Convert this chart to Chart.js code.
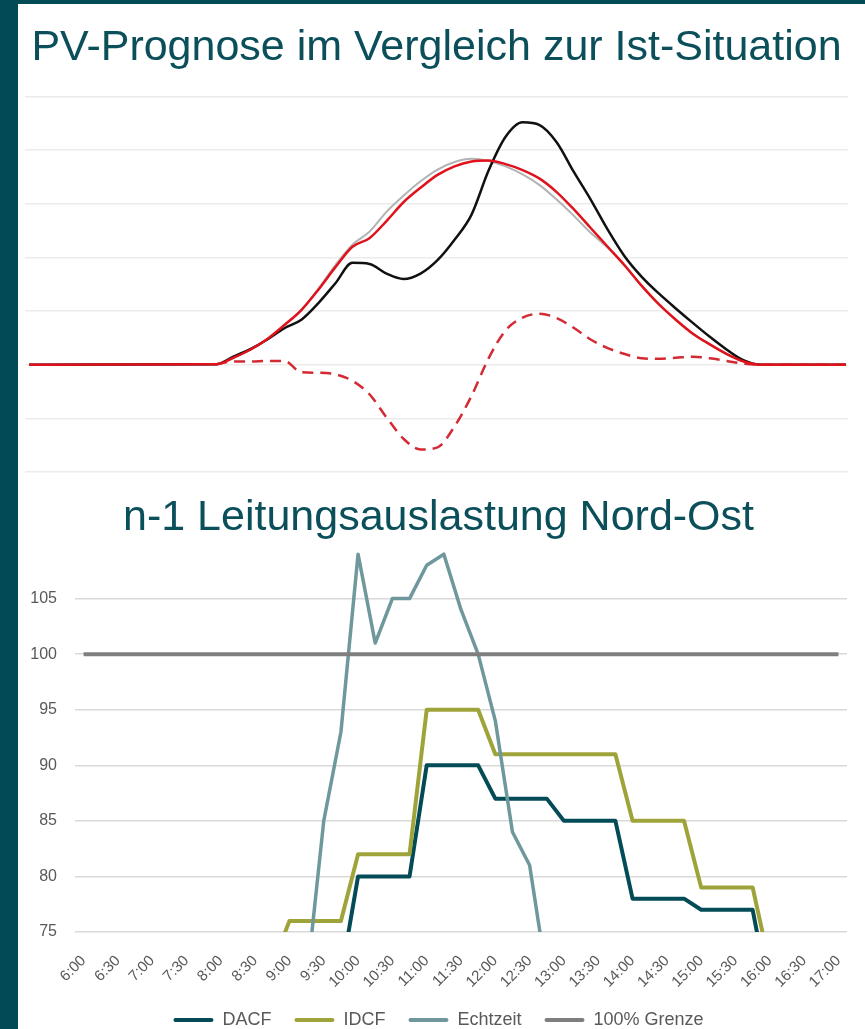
<!DOCTYPE html>
<html>
<head>
<meta charset="utf-8">
<script src="https://cdn.jsdelivr.net/npm/chart.js@4"></script>
<style>
  html, body { margin: 0; padding: 0; background: #024a55; }
  #panel { position: absolute; left: 18px; top: 4px; width: 847px; height: 1025px; background: #fff; overflow: hidden; }
  #wrap1 { position: relative; width: 847px; height: 478px; }
  #wrap2 { position: relative; width: 847px; height: 547px; }
</style>
</head>
<body>
<div id="panel">
  <div id="wrap1"><canvas id="pv"></canvas></div>
  <div id="wrap2"><canvas id="load"></canvas></div>
</div>
<script>
/* PV-Prognose + n-1 Leitungsauslastung */

const FONT = "'Liberation Sans', Arial, sans-serif";
const TEAL = "#0b4f5b";
const GREY_TXT = "#595959";

// ── Top chart: PV (hours of day, arbitrary units) ─────────────────────────
const pvHours = [0, 5.5, 6, 6.5, 7, 7.5, 8, 8.5, 9, 9.5, 10, 10.5, 11, 11.5, 12, 12.5, 13,
  13.5, 14, 14.5, 15, 15.5, 16, 16.5, 17, 17.5, 18, 18.5, 19, 19.5, 20, 20.5, 21, 21.5, 24];

const pvForecast = [0, 0.01, 0.13, 0.28, 0.48, 0.74, 1.02, 1.40, 1.82, 2.20, 2.36, 2.68, 3.03, 3.30, 3.54, 3.70, 3.79,
  3.81, 3.74, 3.63, 3.47, 3.22, 2.90, 2.55, 2.20, 1.85, 1.47, 1.13, 0.84, 0.58, 0.38, 0.20, 0.06, 0, 0];

const pvForecastAlt = [0, 0.01, 0.13, 0.28, 0.48, 0.74, 1.02, 1.42, 1.86, 2.24, 2.48, 2.85, 3.15, 3.42, 3.64, 3.78, 3.84,
  3.80, 3.70, 3.55, 3.35, 3.08, 2.78, 2.46, 2.18, 1.85, 1.47, 1.13, 0.84, 0.58, 0.38, 0.20, 0.06, 0, 0];

const pvActual = [0, 0.01, 0.15, 0.29, 0.47, 0.68, 0.84, 1.15, 1.52, 1.90, 1.88, 1.70, 1.60, 1.70, 1.95, 2.33, 2.80,
  3.62, 4.25, 4.52, 4.47, 4.15, 3.60, 3.08, 2.52, 2.02, 1.64, 1.33, 1.05, 0.78, 0.52, 0.28, 0.08, 0, 0];

const pvDiff = [null, 0.01, 0.06, 0.06, 0.07, 0.07, -0.14, -0.15, -0.18, -0.30, -0.55, -0.98, -1.38, -1.58, -1.54, -1.15, -0.58,
  0.12, 0.64, 0.88, 0.95, 0.87, 0.69, 0.47, 0.31, 0.20, 0.12, 0.11, 0.13, 0.15, 0.12, 0.07, 0.02, 0, 0];

// ── Bottom chart: line load in % (quarter hours) ──────────────────────────
const times = ["6:00", "6:15", "6:30", "6:45", "7:00", "7:15", "7:30", "7:45", "8:00", "8:15", "8:30", "8:45",
  "9:00", "9:15", "9:30", "9:45", "10:00", "10:15", "10:30", "10:45", "11:00", "11:15", "11:30", "11:45",
  "12:00", "12:15", "12:30", "12:45", "13:00", "13:15", "13:30", "13:45", "14:00", "14:15", "14:30", "14:45",
  "15:00", "15:15", "15:30", "15:45", "16:00", "16:15", "16:30", "16:45", "17:00"];

const _ = null;
const dacf = [_, _, _, _, _, _, _, _, _, _, _, _, _, _, _, 71, 80, 80, 80, 80, 90, 90, 90, 90,
  87, 87, 87, 87, 85, 85, 85, 85, 78, 78, 78, 78, 77, 77, 77, 77, 69, _, _, _, _];
const idcf = [_, _, _, _, _, _, _, _, _, _, _, 72, 76, 76, 76, 76, 82, 82, 82, 82, 95, 95, 95, 95,
  91, 91, 91, 91, 91, 91, 91, 91, 85, 85, 85, 85, 79, 79, 79, 79, 72, _, _, _, _];
const echtzeit = [_, _, _, _, _, _, _, _, _, _, _, _, _, 70.5, 85, 93, 109, 101, 105, 105, 108, 109, 104, 100,
  94, 84, 81, 71, _, _, _, _, _, _, _, _, _, _, _, _, _, _, _, _, _];
const grenze = [100, 100, 100, 100, 100, 100, 100, 100, 100, 100, 100, 100, 100, 100, 100, 100, 100, 100, 100, 100,
  100, 100, 100, 100, 100, 100, 100, 100, 100, 100, 100, 100, 100, 100, 100, 100, 100, 100, 100, 100,
  100, 100, 100, 100, 100];

const yTicks = [75, 80, 85, 90, 95, 100, 105];

// ── helpers ───────────────────────────────────────────────────────────────
const toXY = (xs, ys) => xs.map((x, i) => ({ x, y: ys[i] }));

function pvLine(label, data, color, width, dash) {
  return {
    label,
    data: toXY(pvHours, data),
    borderColor: color,
    backgroundColor: color,
    borderWidth: width,
    borderDash: dash || [],
    pointRadius: 0,
    cubicInterpolationMode: "monotone",
  };
}

function loadLine(label, data, color, width, order) {
  return {
    label,
    data,
    borderColor: color,
    backgroundColor: color,
    borderWidth: width,
    borderJoinStyle: "round",
    pointRadius: 0,
    tension: 0,
    order,
  };
}

Chart.defaults.font.family = FONT;
Chart.defaults.animation = false;

// ── PV chart ──────────────────────────────────────────────────────────────
new Chart(document.getElementById("pv"), {
  type: "line",
  data: {
    datasets: [
      pvLine("Prognose", pvForecast, "#e0121c", 2.5),
      pvLine("Abweichung", pvDiff, "#d42a33", 2.5, [11, 7]),
      pvLine("Ist", pvActual, "#111111", 2.5),
      pvLine("Prognose alt", pvForecastAlt, "#b3b3b3", 2),
    ],
  },
  options: {
    responsive: true,
    maintainAspectRatio: false,
    layout: { padding: { left: 7, right: 17, top: 0, bottom: 10 } },
    plugins: {
      legend: { display: false },
      tooltip: { enabled: false },
      title: {
        display: true,
        text: "PV-Prognose im Vergleich zur Ist-Situation",
        color: TEAL,
        font: { size: 43, weight: "normal" },
        padding: { top: 18, bottom: 23 },
      },
    },
    scales: {
      x: { type: "linear", min: -0.12, max: 24.06, display: false },
      y: {
        min: -2,
        max: 5,
        ticks: { display: false, stepSize: 1 },
        grid: { color: "#ebebeb", lineWidth: 1.5, drawTicks: false },
        border: { display: false },
      },
    },
  },
});

// ── Load chart ────────────────────────────────────────────────────────────
new Chart(document.getElementById("load"), {
  type: "line",
  data: {
    labels: times,
    datasets: [
      loadLine("DACF", dacf, "#034b57", 4, 3),
      loadLine("IDCF", idcf, "#9fa43a", 4, 2),
      loadLine("Echtzeit", echtzeit, "#6f989d", 3.5, 1),
      loadLine("100% Grenze", grenze, "#7f7f7f", 4, 0),
    ],
  },
  options: {
    responsive: true,
    maintainAspectRatio: false,
    layout: { padding: { left: 12, right: 18, top: 0, bottom: -10 } },
    plugins: {
      tooltip: { enabled: false },
      title: {
        display: true,
        text: "n-1 Leitungsauslastung Nord-Ost",
        color: TEAL,
        font: { size: 43, weight: "normal" },
        padding: { top: 10, bottom: 5 },
      },
      legend: {
        position: "bottom",
        labels: {
          boxWidth: 40,
          boxHeight: 4,
          padding: 23,
          color: GREY_TXT,
          font: { size: 18 },
          sort: (a, b) => a.datasetIndex - b.datasetIndex,
          generateLabels: (chart) =>
            Chart.defaults.plugins.legend.labels.generateLabels(chart).map((l) => {
              l.lineWidth = 0;
              l.fillStyle = chart.data.datasets[l.datasetIndex].borderColor;
              l.borderRadius = 2;
              return l;
            }),
        },
      },
    },
    scales: {
      x: {
        offset: true,
        grid: { display: false },
        border: { display: false },
        afterFit: (s) => { s.paddingLeft = 0; s.height = 56; },
        ticks: {
          autoSkip: false,
          maxRotation: 45,
          minRotation: 45,
          padding: 12,
          color: GREY_TXT,
          font: { size: 15 },
          callback: function (v, i) {
            return i % 2 === 0 ? this.getLabelForValue(v) : "";
          },
        },
      },
      y: {
        min: yTicks[0],
        max: 109.5,
        afterBuildTicks: (s) => { s.ticks = yTicks.map((v) => ({ value: v })); },
        afterFit: (s) => { s.width = 45; },
        ticks: { color: GREY_TXT, font: { size: 16 }, padding: 18 },
        grid: { color: "#d9d9d9", lineWidth: 1.5, drawTicks: false },
        border: { display: false },
      },
    },
  },
});
</script>
</body>
</html>
